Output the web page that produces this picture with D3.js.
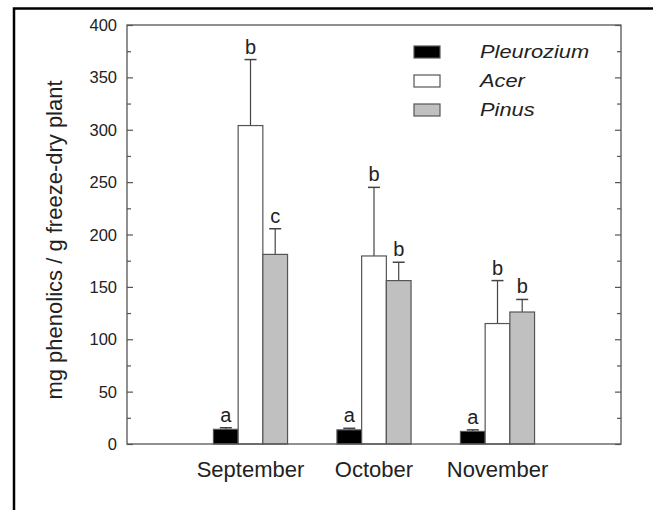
<!DOCTYPE html>
<html>
<head>
<meta charset="utf-8">
<script src="https://cdn.jsdelivr.net/npm/d3@7"></script>
<style>
  body { margin: 0; background: #fff; }
  svg { font-family: "Liberation Sans", Arial, sans-serif; }
</style>
</head>
<body>
<svg width="653" height="510"></svg>
<script>
let months = ["September", "October", "November"];
let species = ["Pleurozium", "Acer", "Pinus"];
let pleurozium = [14, 13.5, 12];
let acer = [304, 179.5, 115];
let pinus = [181, 156, 126];
let pleuroziumErr = [1.5, 1.5, 1.5];
let acerErr = [63, 65.5, 41];
let pinusErr = [24.5, 17.5, 12];
let letters = [["a", "b", "c"], ["a", "b", "b"], ["a", "b", "b"]];
let yTicks = [0, 50, 100, 150, 200, 250, 300, 350, 400];

let svg = d3.select("svg");
let colors = ["#000000", "#ffffff", "#c0c0c0"];
let values = [pleurozium, acer, pinus];
let errs = [pleuroziumErr, acerErr, pinusErr];

// outer border (cut off at right and bottom)
svg.append("rect")
    .attr("x", 14).attr("y", 8.5)
    .attr("width", 700).attr("height", 600)
    .attr("fill", "none").attr("stroke", "#000").attr("stroke-width", 2.5);

let pLeft = 127, pRight = 621, pTop = 25, pBottom = 444;
let x = d3.scaleLinear().domain([0, 4]).range([pLeft, pRight]);
let y = d3.scaleLinear().domain([0, 400]).range([pBottom, pTop]);
let bw = x(0.2) - x(0);

let g = svg.append("g");

// bars
let rows = [];
months.forEach((m, i) => {
    species.forEach((s, j) => {
        rows.push({ i: i, j: j, v: values[j][i], e: errs[j][i], l: letters[i][j] });
    });
});
let cx = d => x(d.i + 1 + (d.j - 1) * 0.2);

g.selectAll(".err")
    .data(rows)
    .enter().append("line")
    .attr("x1", cx).attr("x2", cx)
    .attr("y1", d => y(d.v)).attr("y2", d => y(d.v + d.e))
    .attr("stroke", "#444").attr("stroke-width", 1.2);

g.selectAll(".cap")
    .data(rows)
    .enter().append("line")
    .attr("x1", d => cx(d) - 6).attr("x2", d => cx(d) + 6)
    .attr("y1", d => y(d.v + d.e)).attr("y2", d => y(d.v + d.e))
    .attr("stroke", "#444").attr("stroke-width", 1.5);

g.selectAll(".bar")
    .data(rows)
    .enter().append("rect")
    .attr("x", d => cx(d) - bw / 2)
    .attr("y", d => y(d.v))
    .attr("width", bw)
    .attr("height", d => y(0) - y(d.v))
    .attr("fill", d => colors[d.j])
    .attr("stroke", "#555").attr("stroke-width", 1.2);

g.selectAll(".letter")
    .data(rows)
    .enter().append("text")
    .attr("x", cx)
    .attr("y", d => y(d.v + d.e) - 6)
    .attr("text-anchor", "middle")
    .attr("font-size", 20)
    .attr("fill", "#222")
    .text(d => d.l);

// frame
svg.append("rect")
    .attr("x", pLeft).attr("y", pTop)
    .attr("width", pRight - pLeft).attr("height", pBottom - pTop)
    .attr("fill", "none").attr("stroke", "#555").attr("stroke-width", 1.3);

// y ticks, left and right, pointing inward
let minor = d3.range(25, 400, 50);
[[pLeft, d3.axisRight], [pRight, d3.axisLeft]].forEach(([px, mk]) => {
    let a = svg.append("g").attr("transform", `translate(${px},0)`)
        .call(mk(y).tickValues(yTicks).tickSize(6).tickFormat(""));
    a.select(".domain").remove();
    a.selectAll("line").attr("stroke", "#555").attr("stroke-width", 1.2);
    let b = svg.append("g").attr("transform", `translate(${px},0)`)
        .call(mk(y).tickValues(minor).tickSize(4).tickFormat(""));
    b.select(".domain").remove();
    b.selectAll("line").attr("stroke", "#555").attr("stroke-width", 1.2);
});

// y labels
svg.append("g").selectAll("text")
    .data(yTicks)
    .enter().append("text")
    .attr("x", pLeft - 10)
    .attr("y", d => y(d) + 6)
    .attr("text-anchor", "end")
    .attr("font-size", 16.5)
    .attr("fill", "#222")
    .text(d => d);

// x labels
svg.append("g").selectAll("text")
    .data(months)
    .enter().append("text")
    .attr("x", (d, i) => x(i + 1))
    .attr("y", 477)
    .attr("text-anchor", "middle")
    .attr("font-size", 22)
    .attr("fill", "#222")
    .text(d => d);

// y title
svg.append("text")
    .attr("transform", "translate(62,240) rotate(-90)")
    .attr("text-anchor", "middle")
    .attr("font-size", 22)
    .attr("fill", "#222")
    .text("mg phenolics / g freeze-dry plant");

// legend
let legend = svg.append("g").selectAll("g")
    .data(species)
    .enter().append("g")
    .attr("transform", (d, i) => `translate(414,${46 + i * 29})`);

legend.append("rect")
    .attr("width", 26).attr("height", 12)
    .attr("fill", (d, i) => colors[i])
    .attr("stroke", "#555").attr("stroke-width", 1.2);

legend.append("text")
    .attr("transform", "translate(66,12.3) scale(1.18,1)")
    .attr("font-size", 18.5)
    .attr("font-style", "italic")
    .attr("fill", "#222")
    .text(d => d);
</script>
</body>
</html>
